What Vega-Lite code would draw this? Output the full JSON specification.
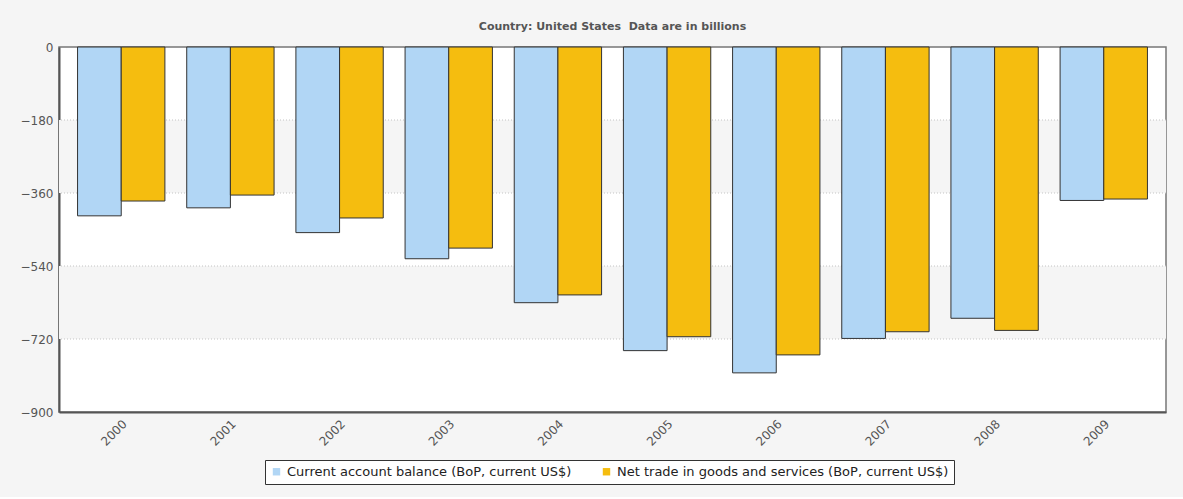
{
  "$schema": "https://vega.github.io/schema/vega-lite/v6.json",
  "width": 1107,
  "height": 365,
  "padding": {"left": 20, "top": 21, "right": 16, "bottom": 12},
  "background": "#f5f5f5",
  "title": {
    "text": "Country: United States \u00a0Data are in billions",
    "font": "DejaVu Sans",
    "fontSize": 11,
    "fontWeight": "bold",
    "color": "#555555",
    "offset": 9
  },
  "config": {
    "view": {"fill": "#ffffff", "stroke": "#777777", "strokeWidth": 1.5},
    "axis": {
      "labelFont": "DejaVu Sans",
      "labelFontSize": 12,
      "labelColor": "#555555",
      "ticks": false,
      "grid": false,
      "domainColor": "#555555",
      "domainWidth": 2,
      "title": null
    },
    "legend": {
      "labelFont": "DejaVu Sans",
      "labelFontSize": 13,
      "labelColor": "#222222",
      "labelLimit": 0
    }
  },
  "layer": [
    {
      "data": {"values": [
        {"top": -180, "bottom": -360},
        {"top": -540, "bottom": -720}
      ]},
      "mark": {"type": "rect", "color": "#f5f5f5"},
      "encoding": {
        "y": {"field": "top", "type": "quantitative", "scale": {"domain": [-900, 0], "nice": false}},
        "y2": {"field": "bottom"}
      }
    },
    {
      "data": {"values": [
        {"level": -180},
        {"level": -360},
        {"level": -540},
        {"level": -720}
      ]},
      "mark": {"type": "rule", "color": "#c4c4c4", "strokeWidth": 1, "strokeDash": [1, 2]},
      "encoding": {
        "y": {"field": "level", "type": "quantitative"}
      }
    },
    {
      "data": {"values": [
        {"year": "2000", "series": "Current account balance (BoP, current US$)", "value": -416.3},
        {"year": "2000", "series": "Net trade in goods and services (BoP, current US$)", "value": -379.8},
        {"year": "2001", "series": "Current account balance (BoP, current US$)", "value": -396.6},
        {"year": "2001", "series": "Net trade in goods and services (BoP, current US$)", "value": -365.1},
        {"year": "2002", "series": "Current account balance (BoP, current US$)", "value": -457.7},
        {"year": "2002", "series": "Net trade in goods and services (BoP, current US$)", "value": -421.6},
        {"year": "2003", "series": "Current account balance (BoP, current US$)", "value": -522.1},
        {"year": "2003", "series": "Net trade in goods and services (BoP, current US$)", "value": -495.9},
        {"year": "2004", "series": "Current account balance (BoP, current US$)", "value": -630.5},
        {"year": "2004", "series": "Net trade in goods and services (BoP, current US$)", "value": -611.3},
        {"year": "2005", "series": "Current account balance (BoP, current US$)", "value": -748.7},
        {"year": "2005", "series": "Net trade in goods and services (BoP, current US$)", "value": -714.4},
        {"year": "2006", "series": "Current account balance (BoP, current US$)", "value": -803.5},
        {"year": "2006", "series": "Net trade in goods and services (BoP, current US$)", "value": -759.2},
        {"year": "2007", "series": "Current account balance (BoP, current US$)", "value": -718.6},
        {"year": "2007", "series": "Net trade in goods and services (BoP, current US$)", "value": -702.1},
        {"year": "2008", "series": "Current account balance (BoP, current US$)", "value": -668.9},
        {"year": "2008", "series": "Net trade in goods and services (BoP, current US$)", "value": -698.8},
        {"year": "2009", "series": "Current account balance (BoP, current US$)", "value": -378.4},
        {"year": "2009", "series": "Net trade in goods and services (BoP, current US$)", "value": -374.9}
      ]},
      "mark": {"type": "bar", "stroke": "#333333", "strokeWidth": 1},
      "encoding": {
        "x": {
          "field": "year",
          "type": "nominal",
          "scale": {"paddingInner": 0.2, "paddingOuter": 0.17},
          "axis": {"labelAngle": -45, "labelPadding": 6}
        },
        "xOffset": {"field": "series", "type": "nominal"},
        "y": {
          "field": "value",
          "type": "quantitative",
          "scale": {"domain": [-900, 0], "nice": false},
          "axis": {
            "values": [0, -180, -360, -540, -720, -900],
            "labelPadding": 6
          }
        },
        "color": {
          "field": "series",
          "type": "nominal",
          "scale": {
            "domain": ["Current account balance (BoP, current US$)", "Net trade in goods and services (BoP, current US$)"],
            "range": ["#b1d6f5", "#f5bd0f"]
          },
          "legend": {
            "orient": "none",
            "legendX": 206,
            "legendY": 413,
            "direction": "horizontal",
            "title": null,
            "symbolType": "square",
            "symbolSize": 55,
            "symbolStrokeWidth": 0,
            "strokeColor": "#333333",
            "fillColor": "#ffffff",
            "padding": 5,
            "columnPadding": 28
          }
        }
      }
    }
  ]
}
